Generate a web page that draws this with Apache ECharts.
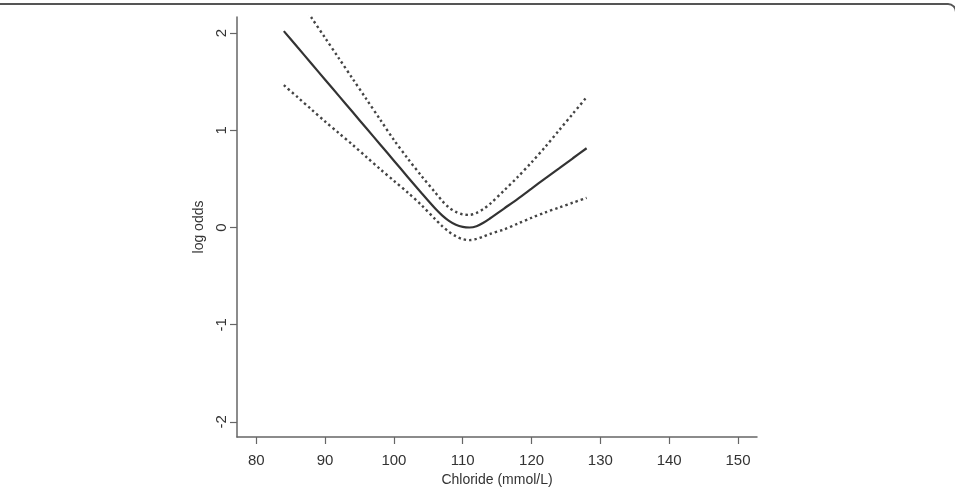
<!DOCTYPE html>
<html>
<head>
<meta charset="utf-8">
<script src="https://cdn.jsdelivr.net/npm/echarts@6/dist/echarts.min.js"></script>
<style>
html,body{margin:0;padding:0;background:#fff;}
#chart{width:955px;height:492px;}
</style>
</head>
<body>
<div id="chart"></div>
<script>
// Chloride (mmol/L) values
const chloride = [84, 86, 88, 90, 92, 94, 96, 98, 100, 102, 104, 106, 107, 108, 109, 110, 111, 112, 113, 114, 116, 118, 120, 122, 124, 126, 128];
// fitted log odds
const fit = [2.02, 1.853, 1.687, 1.52, 1.354, 1.187, 1.02, 0.854, 0.687, 0.52, 0.355, 0.195, 0.125, 0.068, 0.028, 0.006, 0.0, 0.013, 0.048, 0.095, 0.195, 0.295, 0.40, 0.505, 0.608, 0.712, 0.815];
// upper confidence limit
const upper = [2.58, 2.37, 2.16, 1.95, 1.74, 1.53, 1.32, 1.11, 0.90, 0.71, 0.53, 0.36, 0.275, 0.205, 0.16, 0.135, 0.13, 0.15, 0.19, 0.245, 0.38, 0.52, 0.67, 0.83, 1.00, 1.17, 1.34];
// lower confidence limit
const lower = [1.464, 1.34, 1.215, 1.09, 0.97, 0.85, 0.725, 0.60, 0.48, 0.36, 0.23, 0.085, 0.015, -0.045, -0.09, -0.12, -0.13, -0.118, -0.093, -0.065, -0.02, 0.04, 0.10, 0.155, 0.205, 0.255, 0.304];
// tick labels
const xTicks = [80, 90, 100, 110, 120, 130, 140, 150];
const yTicks = [-2, -1, 0, 1, 2];

const pairs = (ys) => chloride.map((x, i) => [x, ys[i]]);

const chart = echarts.init(document.getElementById('chart'), null, {renderer: 'canvas'});
const axisColor = '#666';
const textColor = '#333';
const font = 'Liberation Sans, Arial, Helvetica, sans-serif';

chart.setOption({
  animation: false,
  backgroundColor: '#fff',
  grid: {left: 237, right: 198, top: 17, bottom: 53, containLabel: false},
  xAxis: {
    type: 'value',
    min: 77.195,
    max: 152.76,
    name: 'Chloride (mmol/L)',
    nameLocation: 'middle',
    nameGap: 36,
    nameTextStyle: {color: textColor, fontSize: 14, fontFamily: font},
    axisLine: {show: true, onZero: false, lineStyle: {color: axisColor, width: 1.5}},
    axisTick: {show: true, length: 7, inside: false, customValues: xTicks, lineStyle: {color: axisColor, width: 1.2}},
    axisLabel: {show: true, customValues: xTicks, margin: 16, color: textColor, fontSize: 15, fontFamily: font},
    splitLine: {show: false}
  },
  yAxis: {
    type: 'value',
    min: -2.155,
    max: 2.165,
    name: 'log odds',
    nameLocation: 'middle',
    nameRotate: 90,
    nameGap: 28,
    nameTextStyle: {color: textColor, fontSize: 14, fontFamily: font},
    axisLine: {show: true, onZero: false, lineStyle: {color: axisColor, width: 1.5}},
    axisTick: {show: true, length: 7, inside: false, customValues: yTicks, lineStyle: {color: axisColor, width: 1.2}},
    axisLabel: {show: true, customValues: yTicks, rotate: 90, margin: 8, color: textColor, fontSize: 15, fontFamily: font},
    splitLine: {show: false}
  },
  graphic: [{
    type: 'rect',
    silent: true,
    shape: {x: -10, y: 4, width: 966, height: 600, r: 8},
    style: {fill: 'none', stroke: '#555', lineWidth: 2}
  }],
  series: [
    {type: 'line', data: pairs(fit), showSymbol: false, smooth: 0.3, clip: true,
     lineStyle: {color: '#333', width: 2.2}},
    {type: 'line', data: pairs(upper), showSymbol: false, smooth: 0.3, clip: true,
     lineStyle: {color: '#444', width: 2.4, type: [2.4, 3], cap: 'butt'}},
    {type: 'line', data: pairs(lower), showSymbol: false, smooth: 0.3, clip: true,
     lineStyle: {color: '#444', width: 2.4, type: [2.4, 3], cap: 'butt'}}
  ]
});
</script>
</body>
</html>
